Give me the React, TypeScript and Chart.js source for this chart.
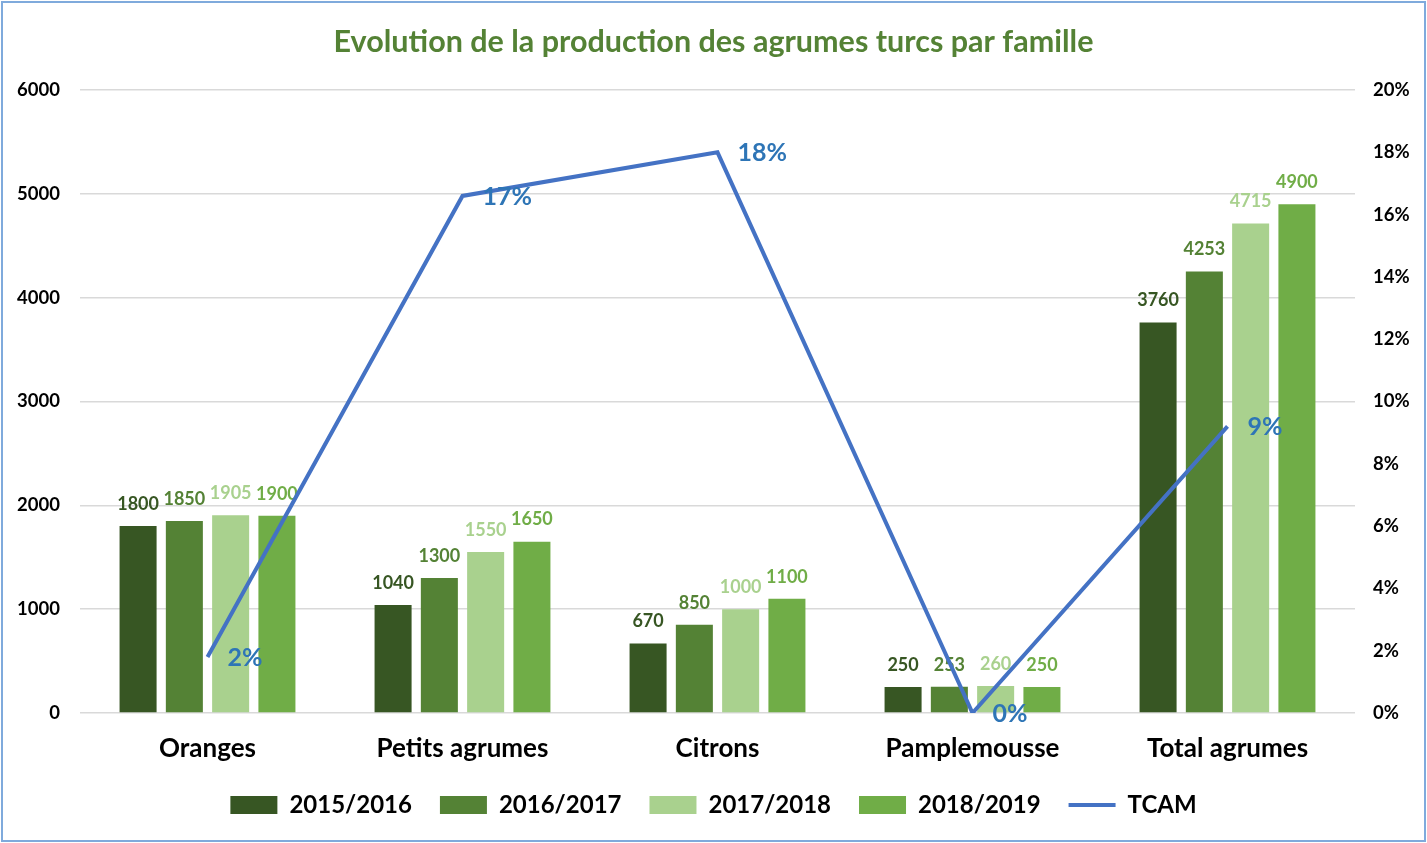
import React, { useEffect, useRef } from "react";
import { Chart, registerables } from "chart.js";

Chart.register(...registerables);

const categories = ["Oranges", "Petits agrumes", "Citrons", "Pamplemousse", "Total agrumes"];
const seriesNames = ["2015/2016", "2016/2017", "2017/2018", "2018/2019"];
const prod20152016 = [1800, 1040, 670, 250, 3760];
const prod20162017 = [1850, 1300, 850, 253, 4253];
const prod20172018 = [1905, 1550, 1000, 260, 4715];
const prod20182019 = [1900, 1650, 1100, 250, 4900];
const tcam = [0.018, 0.166, 0.18, 0, 0.092];
const leftTicks = [0, 1000, 2000, 3000, 4000, 5000, 6000];

const barColors = ["#375623", "#548235", "#A9D18E", "#70AD47"];
const lineColor = "#4472C4";
const lineLabelColor = "#2E75B6";
const FONT = "Lato, 'Open Sans', sans-serif";

export default function App() {
  const ref = useRef<HTMLCanvasElement | null>(null);

  useEffect(() => {
    document.body.style.margin = "0";
    const canvas = ref.current!;
    const seriesData = [prod20152016, prod20162017, prod20172018, prod20182019];

    const frame = {
      id: "frame",
      beforeDraw(chart: any) {
        const ctx = chart.ctx;
        ctx.save();
        ctx.fillStyle = "#ffffff";
        ctx.fillRect(0, 0, chart.width, chart.height);
        ctx.strokeStyle = "#7FAADC";
        ctx.lineWidth = 2;
        ctx.strokeRect(2, 2, chart.width - 4, chart.height - 4);
        ctx.restore();
      },
    };

    const barLabels = {
      id: "barLabels",
      afterDatasetDraw(chart: any, args: any) {
        const ds = chart.data.datasets[args.index];
        if (ds.type !== "bar") return;
        const ctx = chart.ctx;
        ctx.save();
        ctx.font = `bold 18px ${FONT}`;
        ctx.fillStyle = ds.backgroundColor;
        ctx.textAlign = "center";
        ctx.textBaseline = "middle";
        args.meta.data.forEach((el: any, i: number) => {
          ctx.fillText(String(ds.data[i]), el.x, el.y - 22);
        });
        ctx.restore();
      },
    };

    const lineLabels = {
      id: "lineLabels",
      afterDatasetsDraw(chart: any) {
        const idx = chart.data.datasets.findIndex((d: any) => d.type === "line");
        const meta = chart.getDatasetMeta(idx);
        const ds = chart.data.datasets[idx];
        const ctx = chart.ctx;
        ctx.save();
        ctx.font = `bold 25px ${FONT}`;
        ctx.fillStyle = lineLabelColor;
        ctx.textAlign = "left";
        ctx.textBaseline = "middle";
        meta.data.forEach((el: any, i: number) => {
          ctx.fillText(Math.round(ds.data[i] * 100) + "%", el.x + 20, el.y + 1);
        });
        ctx.restore();
      },
    };

    const chart = new Chart(canvas, {
      type: "bar",
      data: {
        labels: categories,
        datasets: [
          ...seriesNames.map((name, i) => ({
            type: "bar" as const,
            label: name,
            data: seriesData[i],
            backgroundColor: barColors[i],
            borderWidth: 0,
            yAxisID: "y",
            order: 1,
            pointStyle: "rect",
            categoryPercentage: 0.726,
            barPercentage: 0.8,
          })),
          {
            type: "line" as const,
            label: "TCAM",
            data: tcam,
            borderColor: lineColor,
            backgroundColor: lineColor,
            borderWidth: 4,
            pointRadius: 0,
            pointStyle: "line",
            tension: 0,
            yAxisID: "y1",
            order: 0,
          },
        ],
      } as any,
      options: {
        responsive: false,
        animation: false,
        layout: { padding: { left: 0, right: 0, top: 0, bottom: 16 } },
        plugins: {
          tooltip: { enabled: false },
          title: {
            display: true,
            text: "Evolution de la production des agrumes turcs par famille",
            color: "#548235",
            font: { family: FONT, size: 30.5, weight: "bold" },
            padding: { top: 23.7, bottom: 29.7 },
          },
          legend: {
            position: "bottom",
            labels: {
              usePointStyle: true,
              pointStyleWidth: 47,
              boxHeight: 18,
              color: "#000000",
              font: { family: FONT, size: 24, weight: "bold" },
              padding: 28,
              sort: (a: any, b: any) => a.datasetIndex - b.datasetIndex,
            },
          },
        },
        scales: {
          x: {
            grid: { display: false, drawTicks: false },
            border: { display: false },
            afterFit: (s: any) => {
              s.height = 52;
            },
            ticks: {
              color: "#000000",
              font: { family: FONT, size: 26, weight: "bold" },
              padding: 20,
            },
          },
          y: {
            position: "left",
            min: 0,
            max: 6000,
            afterBuildTicks: (s: any) => {
              s.ticks = leftTicks.map((v) => ({ value: v }));
            },
            afterFit: (s: any) => {
              s.width = 80;
            },
            grid: { color: "#D9D9D9", lineWidth: 1.5, drawTicks: false },
            border: { display: false },
            ticks: {
              color: "#000000",
              font: { family: FONT, size: 18.5, weight: "bold" },
              padding: 20,
              callback: (v: any) => String(v),
            },
          },
          y1: {
            position: "right",
            min: 0,
            max: 0.2,
            afterFit: (s: any) => {
              s.width = 72;
            },
            grid: { display: false, drawTicks: false },
            border: { display: false },
            ticks: {
              stepSize: 0.02,
              color: "#000000",
              font: { family: FONT, size: 18.5, weight: "bold" },
              padding: 18,
              callback: (v: any) => Math.round(Number(v) * 100) + "%",
            },
          },
        },
      } as any,
      plugins: [frame, barLabels, lineLabels],
    });

    return () => chart.destroy();
  }, []);

  return (
    <div style={{ position: "absolute", left: 0, top: 0, width: 1427, height: 843 }}>
      <canvas ref={ref} width={1427} height={843} />
    </div>
  );
}
